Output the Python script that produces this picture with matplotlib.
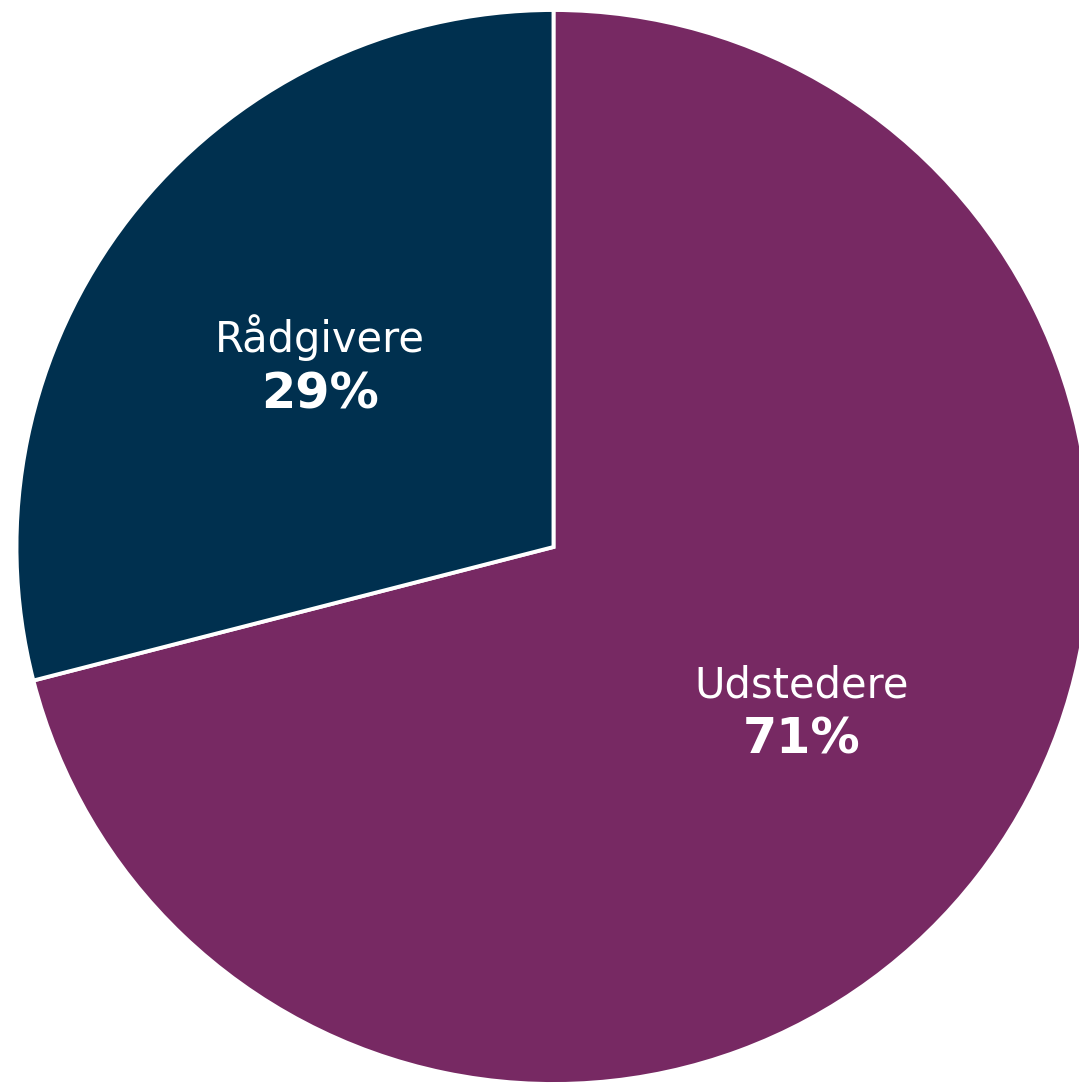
import matplotlib
matplotlib.use('Agg')
import matplotlib.pyplot as plt

# share of respondents by type
labels = ["Udstedere", "Rådgivere"]
shares = [71, 29]
colors = ["#772963", "#00304F"]

W, H = 1079, 1083
cx, cy, R = 553.5, 547, 537   # pie centre and radius in pixels

fig = plt.figure(figsize=(W / 100, H / 100), dpi=100)
ax = fig.add_axes([0, 0, 1, 1])

ax.pie(shares, colors=colors, startangle=90, counterclock=False,
       wedgeprops=dict(edgecolor='white', linewidth=2.8))

# limits so one data unit equals the radius in pixels on both axes
ax.set_aspect('auto')
ax.set_xlim(-cx / R, (W - cx) / R)
ax.set_ylim(-(H - cy) / R, cy / R)
ax.axis('off')


def px(x, y):
    return (x - cx) / R, (cy - y) / R


# label text: name above, bold percentage below
text_pos = {"Udstedere": (802, 697, 753), "Rådgivere": (320, 352, 408)}
for name, val in zip(labels, shares):
    x, y1, y2 = text_pos[name]
    ax.text(*px(x, y1), name, ha='center', va='baseline', color='white',
            fontsize=30, family='DejaVu Sans')
    ax.text(*px(x, y2), f"{val}%", ha='center', va='baseline', color='white',
            fontsize=35.5, fontweight='bold', family='DejaVu Sans')

fig.savefig("out.png", dpi=100)
